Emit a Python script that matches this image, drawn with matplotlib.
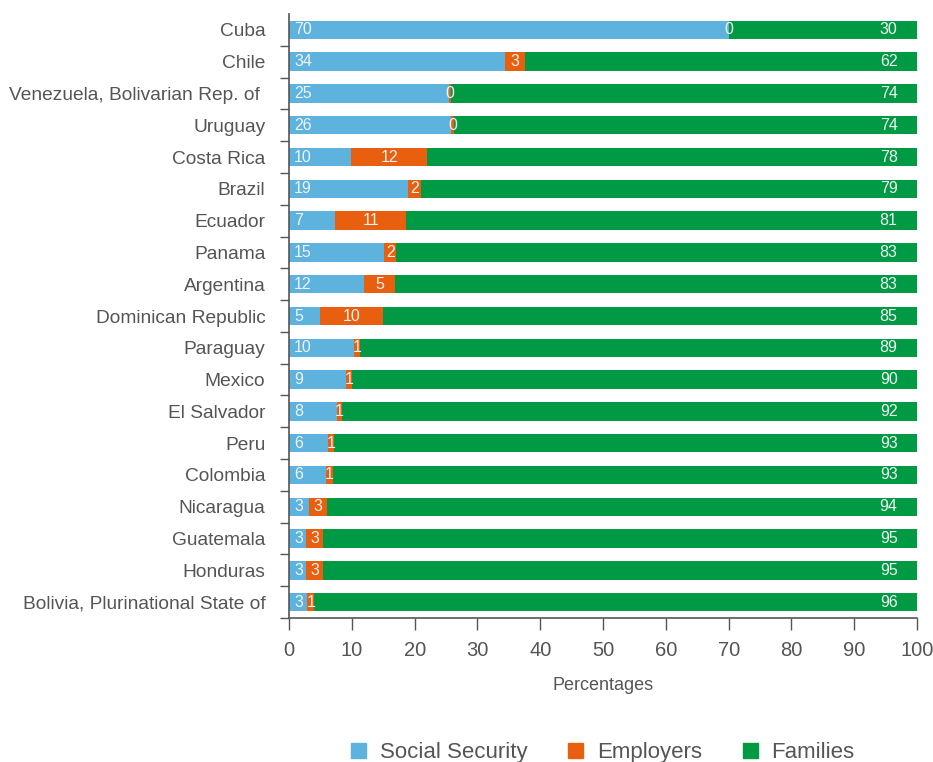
import matplotlib.pyplot as plt
from matplotlib.patches import Patch
from matplotlib.ticker import FixedLocator

# shares of funding by source (percent)
countries = ['Cuba', 'Chile', 'Venezuela, Bolivarian Rep. of ', 'Uruguay', 'Costa Rica',
             'Brazil', 'Ecuador', 'Panama', 'Argentina', 'Dominican Republic', 'Paraguay',
             'Mexico', 'El Salvador', 'Peru', 'Colombia', 'Nicaragua', 'Guatemala',
             'Honduras', 'Bolivia, Plurinational State of']
social_security = [70.0, 34.4, 25.4, 25.8, 9.9, 18.9, 7.3, 15.2, 12.0, 4.9, 10.3,
                   9.1, 7.6, 6.2, 5.9, 3.1, 2.7, 2.7, 2.9]
employers = [0.0, 3.2, 0.4, 0.4, 12.1, 2.1, 11.4, 1.9, 4.9, 10.0, 1.0,
             0.9, 0.8, 0.9, 1.1, 3.0, 2.7, 2.7, 1.1]
families = [30.0, 62.4, 74.2, 73.8, 78.0, 79.0, 81.3, 82.9, 83.1, 85.1, 88.7,
            90.0, 91.6, 92.9, 93.0, 93.9, 94.6, 94.6, 96.0]

c_ss = '#5db3de'
c_emp = '#e8600f'
c_fam = '#009a44'
grey = '#555555'

plt.rcParams['font.family'] = ['Liberation Sans', 'DejaVu Sans']

fig = plt.figure(figsize=(9.33, 7.62), dpi=100)
ax = fig.add_axes([0.3098, 0.189, 0.6731, 0.7926])

y = list(range(len(countries)))
h = 0.58
ax.barh(y, social_security, height=h, color=c_ss)
ax.barh(y, employers, height=h, left=social_security, color=c_emp)
left2 = [a + b for a, b in zip(social_security, employers)]
ax.barh(y, families, height=h, left=left2, color=c_fam)

lab = dict(color='#f2f2f2', fontsize=11.5, va='center')
for i in y:
    ax.text(0.8, i, f'{social_security[i]:.0f}', ha='left', **lab)
    ax.text(social_security[i] + employers[i] / 2, i, f'{employers[i]:.0f}', ha='center', **lab)
    ax.text(96.9, i, f'{families[i]:.0f}', ha='right', **lab)

ax.set_xlim(0, 100)
ax.set_ylim(len(countries) - 0.5, -0.5)
ax.set_xticks(range(0, 101, 10))
ax.set_yticks(y)
ax.set_yticklabels(countries)
ax.yaxis.set_minor_locator(FixedLocator([k + 0.5 for k in range(len(countries))]))
ax.tick_params(axis='y', which='major', length=0, pad=17, labelsize=13.8, labelcolor=grey)
ax.tick_params(axis='y', which='minor', length=6.5, width=1, color=grey)
ax.tick_params(axis='x', length=8.5, width=1, color=grey, labelsize=14.5,
               labelcolor=grey, pad=8)
for s in ['top', 'right']:
    ax.spines[s].set_visible(False)
for s in ['left', 'bottom']:
    ax.spines[s].set_color(grey)
    ax.spines[s].set_linewidth(1.2)

ax.set_xlabel('Percentages', fontsize=13, color=grey, labelpad=12)

handles = [Patch(color=c_ss, label='Social Security'),
           Patch(color=c_emp, label='Employers'),
           Patch(color=c_fam, label='Families')]
leg = fig.legend(handles=handles, loc='center', bbox_to_anchor=(0.646, 0.012), ncol=3,
                 frameon=False, fontsize=16, handlelength=0.68, handleheight=0.68,
                 columnspacing=1.85, handletextpad=0.6)
for t in leg.get_texts():
    t.set_color(grey)

plt.savefig('out.png', dpi=100)
